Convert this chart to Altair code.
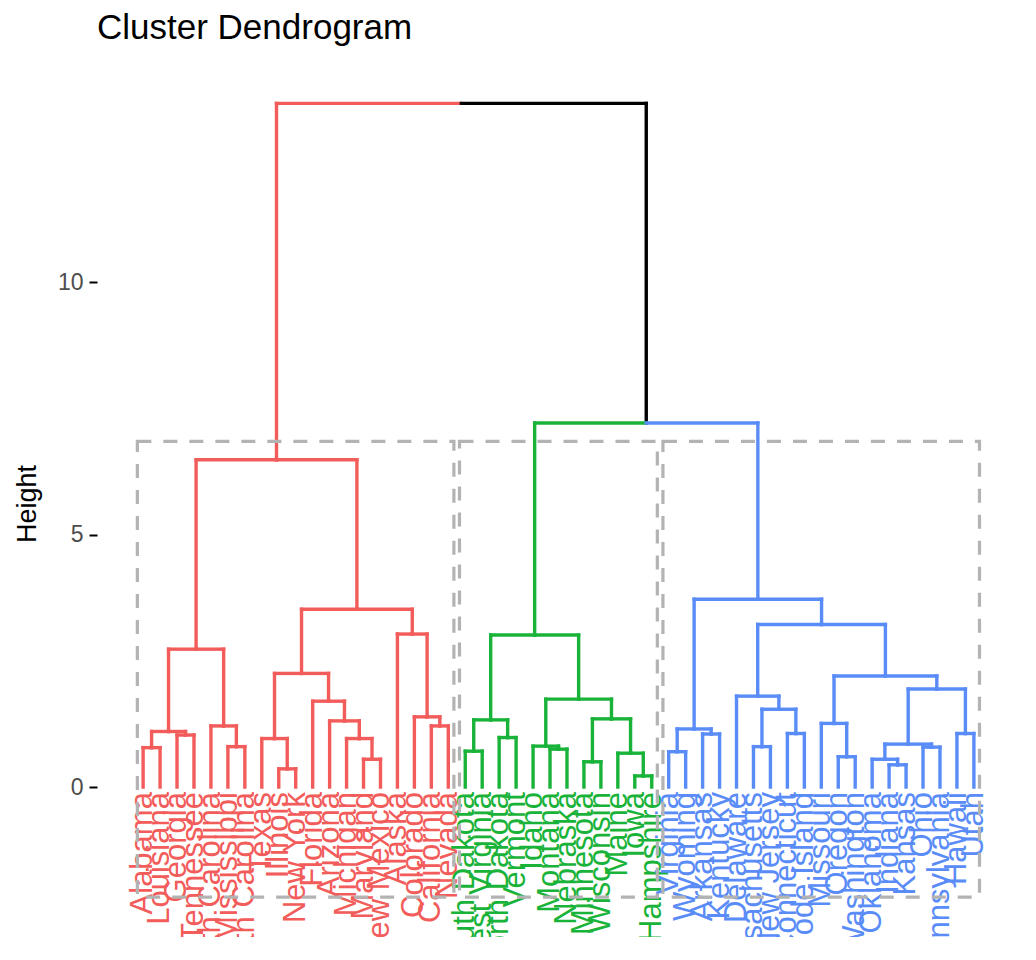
import altair as alt
import pandas as pd

# ---- data -----------------------------------------------------------------
# merge heights (Height axis) of each subtree, leaves are state names
red_left = (2.73, (1.10, (0.78, "Alabama", "Louisiana"), (1.03, "Georgia", "Tennessee")),
            (1.21, "North Carolina", (0.80, "Mississippi", "South Carolina")))
red_mid = (2.25, (0.96, "Texas", (0.36, "Illinois", "New York")),
           (1.70, "Florida", (1.31, "Arizona", (0.96, "Michigan", (0.55, "Maryland", "New Mexico")))))
red_right = (3.03, "Alaska", (1.39, "Colorado", (1.21, "California", "Nevada")))
red_tree = (6.48, red_left, (3.52, red_mid, red_right))

green_tree = (3.01,
              (1.33, (0.71, "South Dakota", "West Virginia"), (0.98, "North Dakota", "Vermont")),
              (1.74, (0.81, "Idaho", (0.75, "Montana", "Nebraska")),
               (1.35, (0.50, "Minnesota", "Wisconsin"), (0.67, "Maine", (0.22, "Iowa", "New Hampshire")))))

blue_tree = (3.72,
             (1.15, (0.70, "Virginia", "Wyoming"), (1.05, "Arkansas", "Kentucky")),
             (3.22,
              (1.80, "Delaware", (1.54, (0.80, "Massachusetts", "New Jersey"),
                                  (1.06, "Connecticut", "Rhode Island"))),
              (2.20, (1.26, "Missouri", (0.60, "Oregon", "Washington")),
               (1.94, (0.85, (0.55, "Oklahoma", (0.44, "Indiana", "Kansas")), (0.79, "Ohio", "Pennsylvania")),
                (1.06, "Hawaii", "Utah")))))

root_tree = (13.54, red_tree, (7.21, green_tree, blue_tree))

cluster_names = ["1", "2", "3"]
cluster_colors = ["#F25C5A", "#1AB33A", "#5A8CF8"]
cluster_trees = [red_tree, green_tree, blue_tree]
rect_top = 6.845      # box top (between the k-1 and k merge heights)
rect_bottom = -2.18   # box bottom
title_text = "Cluster Dendrogram"
y_ticks = [0, 5, 10]

# ---- build tables ---------------------------------------------------------
def leaves(t):
    if isinstance(t, str):
        return [t]
    return leaves(t[1]) + leaves(t[2])

leaf_order = leaves(root_tree)
leaf_pos = {n: i + 1 for i, n in enumerate(leaf_order)}
leaf_cluster = {}
for cname, ct in zip(cluster_names, cluster_trees):
    for n in leaves(ct):
        leaf_cluster[n] = cname

def node_info(t):
    if isinstance(t, str):
        return leaf_pos[t], 0.0
    xl, _ = node_info(t[1])
    xr, _ = node_info(t[2])
    return (xl + xr) / 2.0, t[0]

def child_cluster(t):
    cl = {leaf_cluster[n] for n in leaves(t)}
    return cl.pop() if len(cl) == 1 else "0"

segs = []
def walk(t):
    if isinstance(t, str):
        return
    x, h = node_info(t)
    for c in (t[1], t[2]):
        cx, ch = node_info(c)
        col = child_cluster(c)
        segs.append(dict(x=x, x2=cx, y=h, y2=h, g=col))
        segs.append(dict(x=cx, x2=cx, y=h, y2=ch, g=col))
        walk(c)
walk(root_tree)
seg_df = pd.DataFrame(segs)

label_df = pd.DataFrame({"label": leaf_order,
                         "x": [leaf_pos[n] for n in leaf_order],
                         "g": [leaf_cluster[n] for n in leaf_order]})

rects = []
for cname, ct in zip(cluster_names, cluster_trees):
    pos = [leaf_pos[n] for n in leaves(ct)]
    rects.append(dict(x=min(pos) - 0.34, x2=max(pos) + 0.33, y=rect_bottom, y2=rect_top))
rect_df = pd.DataFrame(rects)

color_scale = alt.Scale(domain=["0"] + cluster_names, range=["#000000"] + cluster_colors)
xs = alt.Scale(domain=[-1.72, 52.72], nice=False, zero=False)
ys = alt.Scale(domain=[-2.97, 14.2], nice=False, zero=False)

x_noaxis = alt.X("x:Q", scale=xs, axis=None)
y_axis = alt.Y("y:Q", scale=ys,
               axis=alt.Axis(title="Height", values=y_ticks, grid=False, domain=False,
                             tickColor="#000000", tickWidth=2, tickSize=8,
                             labelFontSize=23, labelColor="#4D4D4D", labelPadding=6,
                             labelFont="Liberation Sans", titleFont="Liberation Sans",
                             titleFontSize=27, titleFontWeight="normal", titleColor="#000000",
                             titlePadding=16))

segments = alt.Chart(seg_df).mark_rule(strokeWidth=3.4, strokeCap="square").encode(
    x=x_noaxis, x2="x2:Q", y=y_axis, y2="y2:Q",
    color=alt.Color("g:N", scale=color_scale, legend=None))

labels = alt.Chart(label_df).mark_text(angle=270, align="right", baseline="middle",
                                       fontSize=31, font="Liberation Sans", clip=True).encode(
    x=x_noaxis, y=alt.datum(-0.1),
    text="label:N",
    color=alt.Color("g:N", scale=color_scale, legend=None))

boxes = alt.Chart(rect_df).mark_rect(fill=None, fillOpacity=0, stroke="#B3B3B3",
                                     strokeWidth=3.2, strokeDash=[14, 12]).encode(
    x=x_noaxis, x2="x2:Q", y=alt.Y("y:Q", scale=ys), y2="y2:Q")

chart = alt.layer(segments, labels, boxes).properties(
    width=923, height=867,
    title=alt.Title(title_text, anchor="start", frame="group", fontSize=35,
                    font="Liberation Sans", fontWeight="normal", color="#000000", offset=24),
    autosize=alt.AutoSizeParams(type="none"),
    padding={"left": 89, "top": 62, "right": 8, "bottom": 8},
).configure_view(stroke=None)

chart.save("out.html", embed_options={"renderer": "svg", "actions": False})
